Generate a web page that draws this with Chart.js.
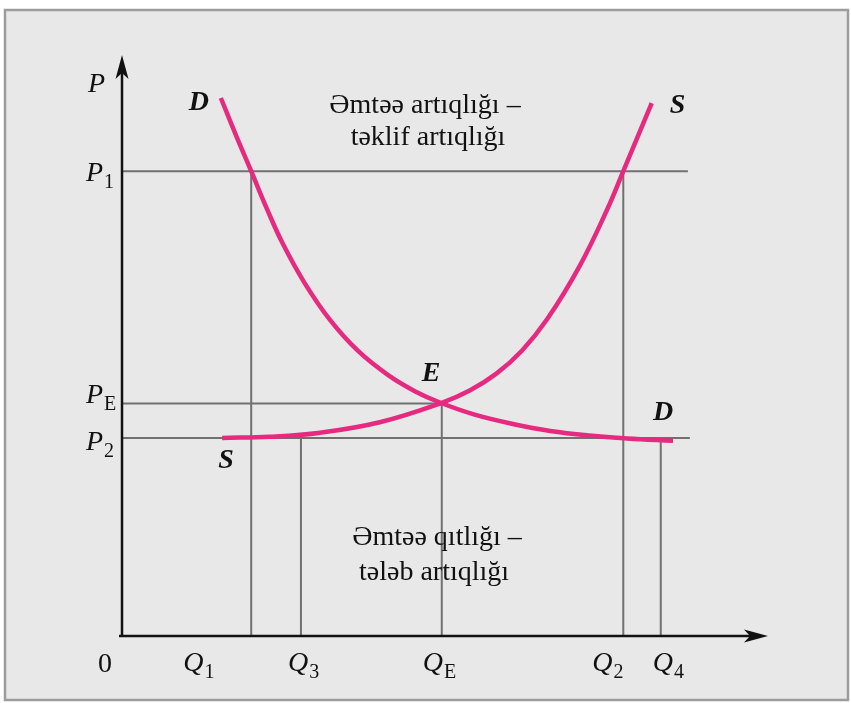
<!DOCTYPE html>
<html><head><meta charset="utf-8">
<script src="https://cdn.jsdelivr.net/npm/chart.js@4.4.1/dist/chart.umd.min.js"></script>
<style>html,body{margin:0;padding:0;background:#fff;}#wrap{width:851px;height:703px;position:relative}canvas{display:block}</style>
</head><body><div id="wrap"><canvas id="c" width="851" height="703"></canvas></div>
<script>
// ---- data (arbitrary units, Q: 0..10, P: 0..10) ----
const demandQ = [1.53, 1.76, 2.00, 2.24, 2.49, 2.83, 3.22, 3.65, 4.12, 4.54, 4.94, 5.46, 6.05, 6.63, 7.24, 7.82, 8.53];
const demandP = [9.26, 8.63, 8.00, 7.36, 6.75, 6.07, 5.44, 4.91, 4.49, 4.21, 4.01, 3.81, 3.65, 3.53, 3.45, 3.40, 3.36];
const supplyQ = [1.55, 2.29, 3.07, 3.99, 4.94, 5.39, 5.80, 6.19, 6.58, 7.09, 7.51, 7.76, 8.20];
const supplyP = [3.41, 3.43, 3.50, 3.68, 4.01, 4.23, 4.52, 4.91, 5.45, 6.38, 7.34, 8.00, 9.17];
const qSubs = ['1', '3', 'E', '2', '4'];
const qValues = [2.0, 2.77, 4.95, 7.76, 8.34];
const qTops = [8.0, 3.41, 4.0, 8.0, 3.37];
const pSubs = ['1', 'E', '2'];
const pValues = [8.0, 4.0, 3.41];
const pEnds = [8.76, 4.95, 8.79];
const topNote = ['Əmtəə artıqlığı –', 'təklif artıqlığı'];
const bottomNote = ['Əmtəə qıtlığı –', 'tələb artıqlığı'];
const axisY = 'P', axisX = 'Q', originLabel = '0';
const demandName = 'D', supplyName = 'S', eqName = 'E';

// ---- styles / layout ----
const CURVE = '#e52a80', GUIDE = '#707070', INK = '#111';
const SERIF = '"Liberation Serif","DejaVu Serif",serif';
const qLabelDx = [-68, -13, -19, -31, -8];
const pLabelDy = [10, -1, 12];

const datasets = [];
datasets.push({data: demandQ.map((q,i)=>({x:q,y:demandP[i]})), borderColor: CURVE, borderWidth: 4.5, tension: 0.4, order:0});
datasets.push({data: supplyQ.map((q,i)=>({x:q,y:supplyP[i]})), borderColor: CURVE, borderWidth: 4.5, tension: 0.4, order:0});
qValues.forEach((q,i)=>datasets.push({data:[{x:q,y:0},{x:q,y:qTops[i]}], borderColor:GUIDE, borderWidth:2, order:1}));
pValues.forEach((p,i)=>datasets.push({data:[{x:0,y:p},{x:pEnds[i],y:p}], borderColor:GUIDE, borderWidth:2, order:1}));

function arrow(ctx, x, y, dir) {
  ctx.save(); ctx.translate(x, y); if (dir === 'right') ctx.rotate(Math.PI/2);
  ctx.beginPath(); ctx.moveTo(0,0); ctx.lineTo(-6.5,24); ctx.lineTo(0,18); ctx.lineTo(6.5,24); ctx.closePath();
  ctx.fillStyle = INK; ctx.fill(); ctx.restore();
}
function subLabel(ctx, x, y, main, sub, size) {
  ctx.font = 'italic ' + size + 'px ' + SERIF; ctx.textAlign='left'; ctx.textBaseline='alphabetic';
  ctx.fillText(main, x, y);
  const w = ctx.measureText(main).width;
  ctx.font = Math.round(size*0.72) + 'px ' + SERIF;
  ctx.fillText(sub, x + w + 1, y + 7);
}

const framePlugin = {
  id:'frame',
  beforeDraw(chart){
    const ctx = chart.ctx; ctx.save();
    ctx.fillStyle='#fff'; ctx.fillRect(0,0,chart.width,chart.height);
    ctx.fillStyle='#e8e8e8'; ctx.fillRect(5,10,843,690);
    ctx.strokeStyle='#9c9c9c'; ctx.lineWidth=2.5; ctx.strokeRect(5,10,843,690);
    ctx.restore();
  },
  afterDatasetsDraw(chart){
    const ctx = chart.ctx, xs = chart.scales.x, ys = chart.scales.y, a = chart.chartArea;
    const x0 = xs.getPixelForValue(0), y0 = ys.getPixelForValue(0);
    ctx.save();
    ctx.strokeStyle = INK; ctx.lineWidth = 2.5;
    ctx.beginPath(); ctx.moveTo(x0, y0+1); ctx.lineTo(x0, a.top+18); ctx.stroke();
    ctx.beginPath(); ctx.moveTo(x0-3, y0); ctx.lineTo(a.right-18, y0); ctx.stroke();
    arrow(ctx, x0, a.top, 'up');
    arrow(ctx, a.right, y0, 'right');
    ctx.fillStyle = INK;
    ctx.font = 'italic 28px ' + SERIF; ctx.textAlign='left'; ctx.textBaseline='alphabetic';
    ctx.fillText(axisY, x0-34, a.top+37);
    ctx.font = '28px ' + SERIF; ctx.fillText(originLabel, x0-24, y0+36);
    qValues.forEach((q,i)=>subLabel(ctx, xs.getPixelForValue(q)+qLabelDx[i], y0+35, axisX, qSubs[i], 28));
    pValues.forEach((p,i)=>subLabel(ctx, x0-36, ys.getPixelForValue(p)+pLabelDy[i], axisY, pSubs[i], 28));
    ctx.font = 'bold italic 28px ' + SERIF; ctx.textAlign='left';
    const px = (q)=>xs.getPixelForValue(q), py = (p)=>ys.getPixelForValue(p);
    const dl = demandQ.length-1, sl = supplyQ.length-1;
    ctx.fillText(demandName, px(demandQ[0])-32, py(demandP[0])+12);
    ctx.fillText(supplyName, px(supplyQ[sl])+18, py(supplyP[sl])+10);
    ctx.fillText(eqName, px(qValues[2])-20, py(pValues[1])-23);
    ctx.fillText(demandName, px(demandQ[dl])-20, py(demandP[dl])-21);
    ctx.fillText(supplyName, px(supplyQ[0])-4, py(supplyP[0])+30);
    ctx.font = '28px ' + SERIF; ctx.textAlign='center';
    ctx.fillText(topNote[0], 425, 113); ctx.fillText(topNote[1], 428, 145);
    ctx.fillText(bottomNote[0], 437, 545); ctx.fillText(bottomNote[1], 434, 580);
    ctx.restore();
  }
};

new Chart(document.getElementById('c'), {
  type:'scatter',
  data:{datasets},
  options:{
    responsive:false, animation:false, showLine:true,
    layout:{padding:{left:122, right:83, top:55, bottom:67}},
    elements:{point:{radius:0, hoverRadius:0}, line:{fill:false, borderCapStyle:'butt'}},
    plugins:{legend:{display:false}, tooltip:{enabled:false}},
    scales:{
      x:{type:'linear', min:0, max:10, display:false},
      y:{type:'linear', min:0, max:10, display:false}
    }
  },
  plugins:[framePlugin]
});
</script></body></html>
